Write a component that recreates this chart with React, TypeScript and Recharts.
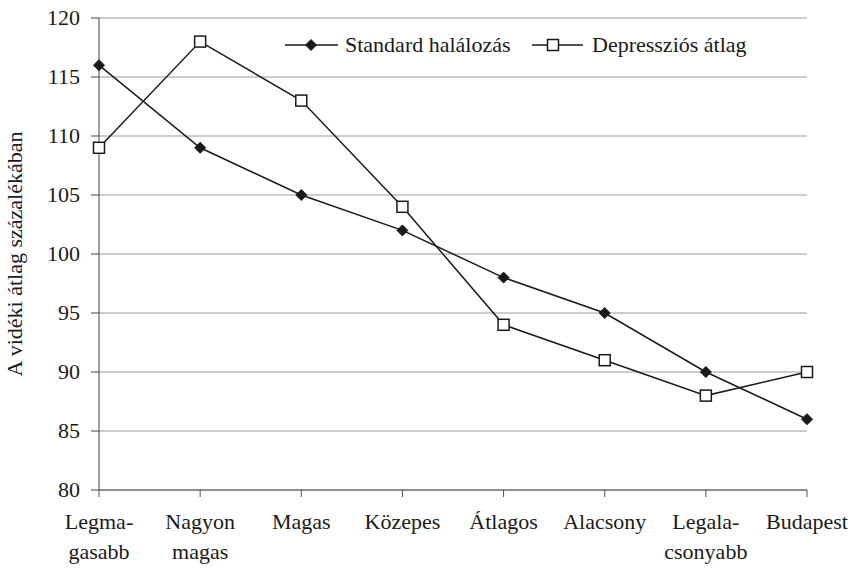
import React from 'react';
import {
  LineChart,
  Line,
  XAxis,
  YAxis,
  CartesianGrid,
  Legend
} from 'recharts';

const categories = [
  'Legmagasabb',
  'Nagyon magas',
  'Magas',
  'Közepes',
  'Átlagos',
  'Alacsony',
  'Legalacsonyabb',
  'Budapest'
];
const tickLabels = [
  ['Legma-', 'gasabb'],
  ['Nagyon', 'magas'],
  ['Magas'],
  ['Közepes'],
  ['Átlagos'],
  ['Alacsony'],
  ['Legala-', 'csonyabb'],
  ['Budapest']
];
const standardHalalozas = [116, 109, 105, 102, 98, 95, 90, 86];
const depresszios = [109, 118, 113, 104, 94, 91, 88, 90];
const yTicks = [80, 85, 90, 95, 100, 105, 110, 115, 120];

const chartData = categories.map((name, i) => ({
  name,
  standard: standardHalalozas[i],
  depresszio: depresszios[i]
}));

const FONT = "'Liberation Serif', 'DejaVu Serif', 'Times New Roman', Times, serif";
const INK = '#1a1a1a';
const txt = { fontFamily: FONT, fontSize: 22, fill: INK };

const Diamond = (props: any) => {
  const { cx, cy } = props;
  if (cx == null || cy == null) return null;
  const r = 5.5;
  return (
    <path
      d={`M${cx},${cy - r}L${cx + r},${cy}L${cx},${cy + r}L${cx - r},${cy}Z`}
      fill={INK}
      stroke={INK}
    />
  );
};

const Square = (props: any) => {
  const { cx, cy } = props;
  if (cx == null || cy == null) return null;
  const r = 5.5;
  return (
    <rect x={cx - r} y={cy - r} width={r * 2} height={r * 2} fill="#fff" stroke={INK} strokeWidth={1.5} />
  );
};

const XTick = (props: any) => {
  const { x, y, index } = props;
  const lines = tickLabels[index] || [];
  return (
    <g>
      {lines.map((t, i) => (
        <text key={i} x={x} y={y + 30 + i * 30} textAnchor="middle" style={txt}>
          {t}
        </text>
      ))}
    </g>
  );
};

const YTick = (props: any) => {
  const { x, y, payload } = props;
  return (
    <text x={x} y={y + 7} textAnchor="end" style={txt}>
      {payload.value}
    </text>
  );
};

const YLabel = (props: any) => {
  const vb = props.viewBox || {};
  const cy = (vb.y || 0) + (vb.height || 0) / 2;
  return (
    <text
      x={22}
      y={cy}
      transform={`rotate(-90, 22, ${cy})`}
      textAnchor="middle"
      style={txt}
    >
      A vidéki átlag százalékában
    </text>
  );
};

const LegendContent = () => (
  <svg width={520} height={30} style={{ display: 'block' }}>
    <line x1={0} y1={15} x2={53} y2={15} stroke={INK} strokeWidth={1.5} />
    <Diamond cx={26} cy={15} />
    <text x={60} y={22} style={txt}>
      Standard halálozás
    </text>
    <line x1={247} y1={15} x2={298} y2={15} stroke={INK} strokeWidth={1.5} />
    <Square cx={268} cy={15} />
    <text x={307} y={22} style={txt}>
      Depressziós átlag
    </text>
  </svg>
);

const App: React.FC = () => {
  return (
    <div style={{ position: 'absolute', left: 0, top: 0, background: '#fff' }}>
      <LineChart
        width={853}
        height={569}
        data={chartData}
        margin={{ top: 18, right: 46, left: 39, bottom: 49 }}
      >
        <CartesianGrid vertical={false} stroke="#9a9a9a" />
        <XAxis
          dataKey="name"
          interval={0}
          tick={<XTick />}
          tickSize={7}
          axisLine={{ stroke: '#555' }}
          tickLine={{ stroke: '#555' }}
          height={30}
        />
        <YAxis
          domain={[80, 120]}
          ticks={yTicks}
          width={60}
          tickSize={8}
          tickMargin={11}
          axisLine={{ stroke: '#444' }}
          tickLine={{ stroke: '#444' }}
          tick={<YTick />}
          label={<YLabel />}
        />
        <YAxis
          yAxisId="border"
          orientation="right"
          width={0}
          tick={false}
          tickLine={false}
          axisLine={{ stroke: '#9a9a9a' }}
        />
        <Legend
          layout="horizontal"
          verticalAlign="middle"
          align="center"
          content={<LegendContent />}
          wrapperStyle={{ top: 30, left: 285, width: 520 }}
        />
        <Line
          type="linear"
          dataKey="standard"
          name="Standard halálozás"
          stroke={INK}
          strokeWidth={1.5}
          dot={<Diamond />}
          activeDot={false}
          isAnimationActive={false}
        />
        <Line
          type="linear"
          dataKey="depresszio"
          name="Depressziós átlag"
          stroke={INK}
          strokeWidth={1.5}
          dot={<Square />}
          activeDot={false}
          isAnimationActive={false}
        />
      </LineChart>
    </div>
  );
};

export default App;
